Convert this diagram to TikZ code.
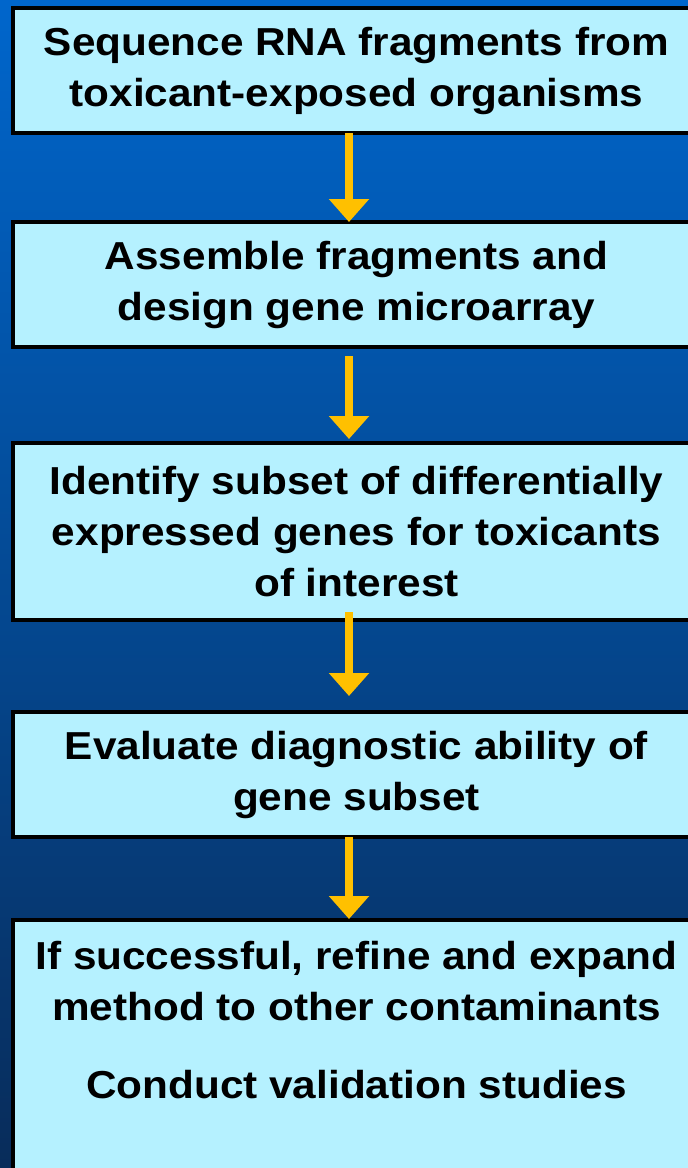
\documentclass[tikz,border=0pt]{standalone}
\usepackage{fontspec}
\setmainfont{Liberation Sans}[FakeStretch=1.085]
\usetikzlibrary{arrows.meta}
\definecolor{boxfill}{RGB}{181,241,255}
\definecolor{arrowc}{RGB}{255,192,0}
\definecolor{bgtop}{RGB}{0,102,204}
\definecolor{bgmid}{RGB}{0,80,160}
\definecolor{bgbot}{RGB}{8,44,90}
\begin{document}
\begin{tikzpicture}[x=1pt,y=1pt,
  box/.style={draw=black, line width=4pt, fill=boxfill, minimum width=687pt,
    inner sep=0pt, outer sep=0pt, align=center,
    font=\fontsize{39}{51}\selectfont\bfseries, text=black},
  txt/.style={inner sep=0pt, outer sep=0pt, align=center,
    font=\fontsize{39}{51}\selectfont\bfseries, text=black},
  flow/.style={draw=arrowc, line width=8pt, -{Triangle[width=39pt,length=23pt]}, arrowc}]
\useasboundingbox (0,-1168) rectangle (688,0);
\clip (0,-1168) rectangle (688,0);
\shade[top color=bgtop, middle color=bgmid, bottom color=bgbot] (0,-1168) rectangle (688,0);

\node[box, minimum height=125pt] (b1) at (356.5,-70.5)
  {Sequence RNA fragments from\\toxicant-exposed organisms};
\node[box, minimum height=125pt] (b2) at (356.5,-284.5)
  {Assemble fragments and\\design gene microarray};
\node[box, minimum height=177pt] (b3) at (356.5,-531.5)
  {Identify subset of differentially\\expressed genes for toxicants\\of interest};
\node[box, minimum height=125pt] (b4) at (356.5,-774.5)
  {Evaluate diagnostic ability of\\gene subset};
\node[box, minimum height=290pt] (b5) at (356.5,-1065) {};
\node[txt, anchor=north] (t5) at (356.5,-941.6)
  {If successful, refine and expand\\method to other contaminants\\[27pt]Conduct validation studies};

\coordinate (ax) at (349,0);
\draw[flow] (b1.south -| ax) -- (b2.north -| ax);
\draw[flow, shorten <=9pt, shorten >=4pt] (b2.south -| ax) -- (b3.north -| ax);
\draw[flow, shorten <=-8pt, shorten >=16pt] (b3.south -| ax) -- (b4.north -| ax);
\draw[flow, shorten >=1pt] (b4.south -| ax) -- (b5.north -| ax);
\end{tikzpicture}
\end{document}
